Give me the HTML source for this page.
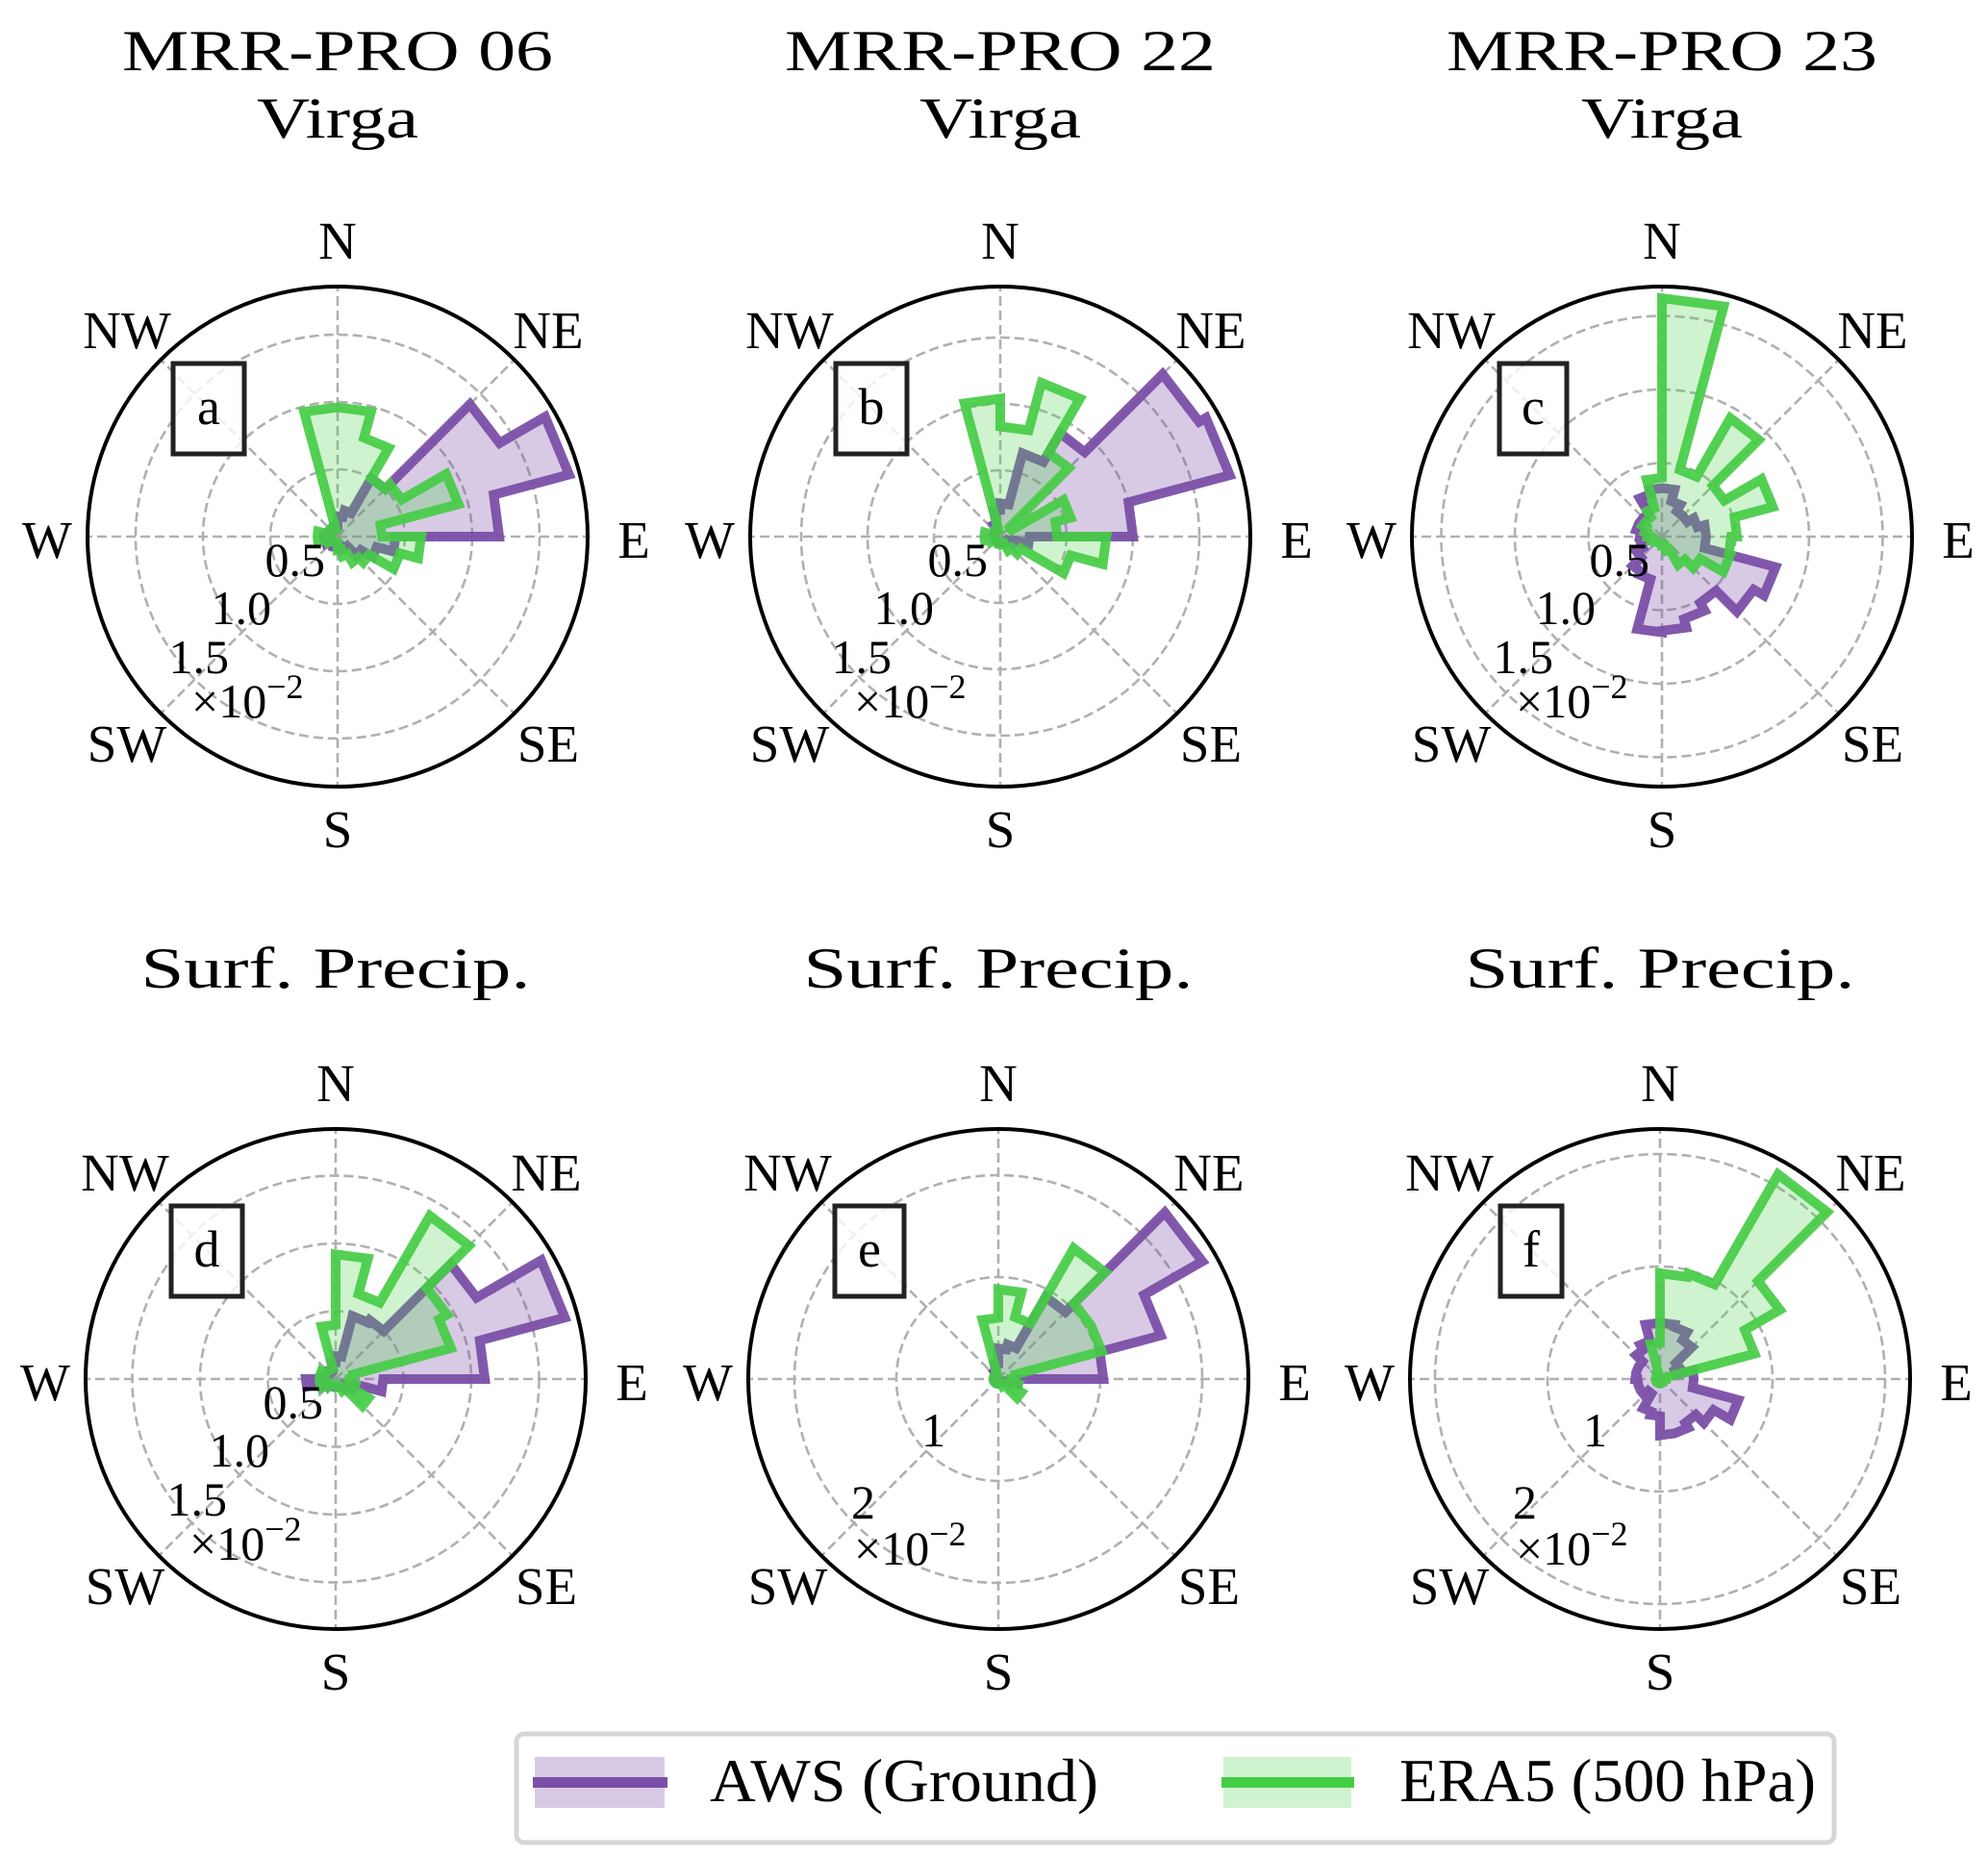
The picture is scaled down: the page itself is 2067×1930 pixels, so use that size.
<!DOCTYPE html>
<html><head><meta charset="utf-8">
<style>
html,body{margin:0;padding:0;background:#fff;}
svg{display:block;}
text{font-family:"Liberation Serif","DejaVu Serif",serif;fill:#000;}
</style></head>
<body>
<svg id="fig" width="2067" height="1930" viewBox="0 0 2067 1930" xmlns="http://www.w3.org/2000/svg"></svg>
<script>
// Categories: 24 direction bins of 15 degrees (compass, clockwise from N)
const binStarts = [0,15,30,45,60,75,90,105,120,135,150,165,180,195,210,225,240,255,270,285,300,315,330,345];
const compassLabels = ['N','NE','E','SE','S','SW','W','NW'];
// Relative frequency values (x10^-2)
const aAws = [0.15,0.2,0.5,1.39,1.78,1.2,0.43,0.3,0.2,0.1,0.1,0.08,0.08,0.06,0.06,0.08,0.1,0.1,0.08,0.06,0.05,0.05,0.05,0.08];
const aEra = [0.96,0.76,0.5,0.55,0.93,0.33,0.62,0.48,0.27,0.22,0.15,0.1,0.05,0.05,0.05,0.05,0.08,0.15,0.15,0.08,0.08,0.08,0.05,0.96];
const bAws = [0.25,0.65,0.9,1.73,1.79,1.0,0.22,0.1,0.06,0.05,0.05,0.05,0.04,0.04,0.04,0.04,0.04,0.04,0.04,0.04,0.05,0.05,0.1,0.2];
const bEra = [0.83,1.2,0.73,0.1,0.55,0.43,0.8,0.55,0.18,0.12,0.06,0.05,0.04,0.04,0.04,0.05,0.08,0.12,0.12,0.06,0.05,0.05,0.05,1.04];
const cAws = [0.33,0.25,0.2,0.2,0.25,0.3,0.3,0.8,0.72,0.52,0.58,0.64,0.65,0.3,0.28,0.2,0.15,0.12,0.15,0.18,0.18,0.18,0.3,0.33];
const cEra = [1.62,0.47,0.93,0.49,0.78,0.51,0.47,0.48,0.3,0.22,0.1,0.06,0.05,0.05,0.05,0.05,0.06,0.08,0.1,0.12,0.15,0.15,0.2,0.4];
const dAws = [0.17,0.48,0.5,1.2,1.75,1.1,0.35,0.15,0.1,0.06,0.06,0.06,0.06,0.06,0.06,0.08,0.12,0.22,0.1,0.06,0.06,0.06,0.08,0.12];
const dEra = [0.92,0.65,1.39,0.95,0.88,0.13,0.1,0.15,0.28,0.1,0.06,0.05,0.05,0.05,0.05,0.08,0.12,0.12,0.12,0.12,0.08,0.08,0.08,0.4];
const eAws = [0.3,0.35,0.93,2.31,1.65,1.03,0.2,0.1,0.04,0.04,0.04,0.04,0.04,0.04,0.04,0.04,0.04,0.04,0.04,0.04,0.04,0.04,0.08,0.15];
const eEra = [0.88,0.63,1.48,1.05,1.05,0.17,0.12,0.2,0.26,0.08,0.05,0.05,0.05,0.05,0.05,0.05,0.05,0.05,0.05,0.05,0.05,0.05,0.05,0.6];
const fAws = [0.5,0.48,0.4,0.2,0.15,0.3,0.3,0.72,0.55,0.45,0.5,0.5,0.33,0.3,0.15,0.2,0.2,0.2,0.22,0.22,0.22,0.3,0.35,0.5];
const fEra = [0.94,0.97,2.1,1.23,0.87,0.05,0.04,0.04,0.04,0.04,0.04,0.04,0.04,0.04,0.04,0.04,0.04,0.04,0.04,0.04,0.04,0.04,0.06,0.32];
const ticksA = ['0.5','1.0','1.5'];
const tickValsA = [0.5,1.0,1.5];
const ticksB = ['1','2'];
const tickValsB = [1,2];

const NS='http://www.w3.org/2000/svg';
const svg=document.getElementById('fig');
function mk(tag,attrs,parent){const e=document.createElementNS(NS,tag);for(const k in attrs)e.setAttribute(k,attrs[k]);(parent||svg).appendChild(e);return e;}
function txt(s,attrs,parent){const e=mk('text',attrs,parent);e.textContent=s;return e;}

const panels=[
 {id:'a',cx:351,cy:558,scale:140,aws:aAws,era:aEra,t1:'MRR-PRO 06',t2:'Virga',ticks:ticksA,tv:tickValsA,bw:74},
 {id:'b',cx:1040,cy:558,scale:138,aws:bAws,era:bEra,t1:'MRR-PRO 22',t2:'Virga',ticks:ticksA,tv:tickValsA,bw:74},
 {id:'c',cx:1728,cy:558,scale:153,aws:cAws,era:cEra,t1:'MRR-PRO 23',t2:'Virga',ticks:ticksA,tv:tickValsA,bw:70},
 {id:'d',cx:349,cy:1434,scale:141,aws:dAws,era:dEra,t1:null,t2:'Surf.  Precip.',ticks:ticksA,tv:tickValsA,bw:74},
 {id:'e',cx:1038,cy:1434,scale:106,aws:eAws,era:eEra,t1:null,t2:'Surf.  Precip.',ticks:ticksB,tv:tickValsB,bw:72},
 {id:'f',cx:1726,cy:1434,scale:117,aws:fAws,era:fEra,t1:null,t2:'Surf.  Precip.',ticks:ticksB,tv:tickValsB,bw:64}
];
const R=260;
function pt(p,deg,val){const a=deg*Math.PI/180;const r=val*p.scale;return [p.cx+r*Math.sin(a),p.cy-r*Math.cos(a)];}
function rosePath(p,vals){
  let d='';
  vals.forEach((v,i)=>{const s=binStarts[i];const p1=pt(p,s,v),p2=pt(p,s+15,v);
    d+=(i===0?'M':'L')+p1[0].toFixed(1)+','+p1[1].toFixed(1)+'L'+p2[0].toFixed(1)+','+p2[1].toFixed(1);});
  return d+'Z';
}

panels.forEach(p=>{
  const g=mk('g',{});
  
  
  if(p.t1){
    const t=txt(p.t1,{x:p.cx,y:73,'text-anchor':'middle','font-size':60,textLength:448,lengthAdjust:'spacingAndGlyphs'},g);
    
    
    const t2=txt(p.t2,{x:p.cx,y:143,'text-anchor':'middle','font-size':60,textLength:168,lengthAdjust:'spacingAndGlyphs'},g);
    
    
  } else {
    const t2=txt(p.t2,{x:p.cx,y:1027,'text-anchor':'middle','font-size':60,textLength:405,lengthAdjust:'spacingAndGlyphs'},g);
    
    
  }
  p.tv.forEach(v=>{
    const c=mk('circle',{cx:p.cx,cy:p.cy,r:v*p.scale,fill:'none',stroke:'#b0b0b0','stroke-width':2.6,'stroke-dasharray':'10,5'},g);
    
    
  });
  for(let k=0;k<8;k++){
    const e=pt(p,k*45,R/p.scale);
    const l=mk('line',{x1:p.cx,y1:p.cy,x2:e[0],y2:e[1],stroke:'#b0b0b0','stroke-width':2.6,'stroke-dasharray':'10,5'},g);
    
    
  }
  const pa=mk('path',{d:rosePath(p,p.aws),fill:'rgba(126,80,166,0.3)',stroke:'#7b4fa8','stroke-width':10,'stroke-linejoin':'miter','stroke-opacity':0.95},g);
  
  
  const pe=mk('path',{d:rosePath(p,p.era),fill:'rgba(76,210,76,0.27)',stroke:'#45cc45','stroke-width':10,'stroke-linejoin':'miter','stroke-opacity':0.92},g);
  
  
  const oc=mk('circle',{cx:p.cx,cy:p.cy,r:R,fill:'none',stroke:'#000','stroke-width':4},g);
  
  
  const cl=[[0,-289],[219,-196],[308,22],[219,234],[0,323],[-219,234],[-302,22],[-219,-196]];
  compassLabels.forEach((s,k)=>{
    const t=txt(s,{x:p.cx+cl[k][0],y:p.cy+cl[k][1],'text-anchor':'middle','font-size':55},g);
    
    
  });
  let pos, xpos;
  if(p.ticks.length===3){pos=[[-13,41],[-69,91],[-113,142]];xpos=[-152,188];}
  else {pos=[[-55,70],[-128,145]];xpos=[-150,193];}
  p.ticks.forEach((s,k)=>{
    const t=txt(s,{x:p.cx+pos[k][0],y:p.cy+pos[k][1],'text-anchor':'end','font-size':50},g);
    
    
  });
  const mult=txt('',{x:p.cx+xpos[0],y:p.cy+xpos[1],'font-size':50},g);
  
  
  const ts1=mk('tspan',{},mult);ts1.textContent='×10';
  const ts2=mk('tspan',{dy:-20,'font-size':36},mult);ts2.textContent='−2';
  const bx=p.cx-134-p.bw/2;
  const rect=mk('rect',{x:bx,y:p.cy-180,width:p.bw,height:94,fill:'#fff','fill-opacity':0.8,stroke:'#222','stroke-width':5},g);
  
  
  const lt=txt(p.id,{x:p.cx-134,y:p.cy-117,'text-anchor':'middle','font-size':54},g);
  
  
});

const lg=mk('g',{});


const lb=mk('rect',{x:537,y:1803,width:1370,height:113,rx:8,fill:'#fff',stroke:'#d6d6d6','stroke-width':5},lg);


const e1=mk('g',{},lg);


mk('rect',{x:556,y:1827,width:135,height:53,fill:'rgba(126,80,166,0.3)'},e1);
mk('rect',{x:554,y:1848,width:140,height:11,fill:'#7b4fa8'},e1);
txt('AWS (Ground)',{x:738,y:1873,'font-size':64,textLength:404,lengthAdjust:'spacingAndGlyphs'},e1);
const e2=mk('g',{},lg);


mk('rect',{x:1272,y:1827,width:133,height:53,fill:'rgba(76,210,76,0.27)'},e2);
mk('rect',{x:1270,y:1848,width:138,height:11,fill:'#45cc45'},e2);
txt('ERA5 (500 hPa)',{x:1455,y:1873,'font-size':64,textLength:433,lengthAdjust:'spacingAndGlyphs'},e2);
</script>
</body></html>
